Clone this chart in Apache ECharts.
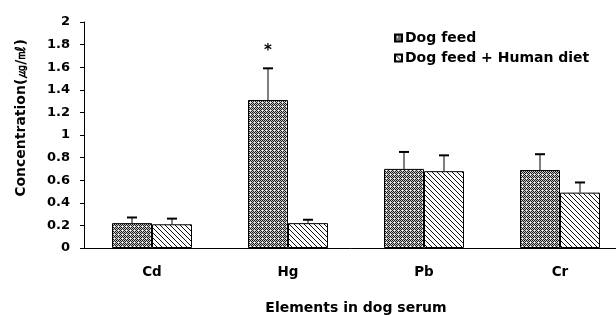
<!DOCTYPE html>
<html>
<head>
<meta charset="utf-8">
<script src="https://cdn.jsdelivr.net/npm/echarts@6/dist/echarts.min.js"></script>
<style>
  html, body { margin: 0; padding: 0; background: #fff; }
  #chart { width: 616px; height: 315px; }
</style>
</head>
<body>
<div id="chart"></div>
<script>
// data
const elements = ["Cd", "Hg", "Pb", "Cr"];
const seriesNames = ["Dog feed", "Dog feed + Human diet"];
const dogFeed = [0.22, 1.31, 0.70, 0.69];
const dogFeedSd = [0.05, 0.28, 0.15, 0.14];
const humanDiet = [0.21, 0.22, 0.68, 0.49];
const humanDietSd = [0.05, 0.03, 0.14, 0.09];
const significance = ["", "*", "", ""]; // marks over the Dog feed bars

const FONT = "DejaVu Sans";

// fill patterns (dotted dark / diagonal hatch)
function makeDots() {
  const c = document.createElement("canvas");
  c.width = 4; c.height = 4;
  const g = c.getContext("2d");
  g.fillStyle = "#c8c8c8";
  g.fillRect(0, 0, 4, 4);
  g.fillStyle = "#1a1a1a";
  g.fillRect(0, 0, 1, 1);
  g.fillRect(2, 0, 1, 1);
  g.fillRect(1, 1, 1, 1);
  g.fillRect(3, 1, 1, 1);
  g.fillRect(0, 2, 1, 1);
  g.fillRect(1, 3, 1, 1);
  g.fillRect(3, 3, 1, 1);
  g.fillStyle = "#fff";
  g.fillRect(2, 2, 1, 1);
  return c;
}
function makeHatch() {
  const c = document.createElement("canvas");
  c.width = 5; c.height = 5;
  const g = c.getContext("2d");
  g.fillStyle = "#fff";
  g.fillRect(0, 0, 5, 5);
  g.fillStyle = "#111";
  for (let i = 0; i < 5; i++) {
    g.fillRect(i, i, 1, 1);
  }
  return c;
}

const chart = echarts.init(document.getElementById("chart"), null, { renderer: "canvas" });

// error bars drawn through the axis coordinates
function errorSeries(values, sds, offset, marks) {
  return {
    type: "custom",
    silent: true,
    z: 5,
    data: values.map((v, i) => [i, v, sds[i]]),
    renderItem(params, api) {
      const i = api.value(0);
      const v = api.value(1);
      const sd = api.value(2);
      const base = api.coord([i, v]);
      const top = api.coord([i, v + sd]);
      const x = base[0] + offset;
      const children = [
        { type: "line", shape: { x1: x, y1: base[1], x2: x, y2: top[1] }, style: { stroke: "#000", lineWidth: 1 } },
        { type: "line", shape: { x1: x - 5, y1: top[1], x2: x + 5, y2: top[1] }, style: { stroke: "#000", lineWidth: 2 } }
      ];
      const mark = marks ? marks[params.dataIndex] : "";
      if (mark) {
        children.push({
          type: "text",
          style: { text: mark, x: x, y: top[1] - 17, align: "center", verticalAlign: "middle",
                   font: "bold 15px " + FONT, fill: "#000" }
        });
      }
      return { type: "group", children };
    }
  };
}

const option = {
  animation: false,
  backgroundColor: "#fff",
  grid: { left: 84, right: -12, top: 22, bottom: 67, outerBoundsMode: "none", containLabel: false },
  legend: {
    left: 389,
    top: 26,
    orient: "vertical",
    itemGap: 6,
    itemWidth: 7,
    itemHeight: 7,
    icon: "rect",
    data: seriesNames,
    textStyle: { fontFamily: FONT, fontWeight: "bold", fontSize: 14, color: "#000", padding: [0, 0, 0, -2] }
  },
  xAxis: {
    type: "category",
    data: elements,
    name: "Elements in dog serum",
    nameLocation: "middle",
    nameGap: 53,
    nameTextStyle: { fontFamily: FONT, fontWeight: "bold", fontSize: 14, color: "#000" },
    axisLine: { lineStyle: { color: "#000", width: 1 } },
    axisTick: { inside: true, length: 3, lineStyle: { color: "#000" } },
    axisLabel: { fontFamily: FONT, fontWeight: "bold", fontSize: 13.5, color: "#000", margin: 17 }
  },
  yAxis: {
    type: "value",
    min: 0,
    max: 2,
    interval: 0.2,
    name: "Concentration(㎍/㎖)",
    nameLocation: "middle",
    nameGap: 56,
    nameTextStyle: { fontFamily: FONT, fontWeight: "bold", fontSize: 14, color: "#000", padding: [0, 0, 0, 34] },
    axisLine: { show: true, lineStyle: { color: "#000", width: 1 } },
    axisTick: { show: true, length: 4, lineStyle: { color: "#000" } },
    splitLine: { show: false },
    axisLabel: { fontFamily: FONT, fontWeight: "bold", fontSize: 13, color: "#000", margin: 14 }
  },
  series: [
    {
      name: seriesNames[0],
      type: "bar",
      data: dogFeed,
      barWidth: 40,
      barGap: "0%",
      itemStyle: { color: { image: makeDots(), repeat: "repeat" }, borderColor: "#000", borderWidth: 1 }
    },
    {
      name: seriesNames[1],
      type: "bar",
      data: humanDiet,
      barWidth: 40,
      barGap: "0%",
      itemStyle: { color: { image: makeHatch(), repeat: "repeat" }, borderColor: "#000", borderWidth: 1 }
    },
    errorSeries(dogFeed, dogFeedSd, -20, significance),
    errorSeries(humanDiet, humanDietSd, 20, null)
  ]
};

chart.setOption(option);
</script>
</body>
</html>
